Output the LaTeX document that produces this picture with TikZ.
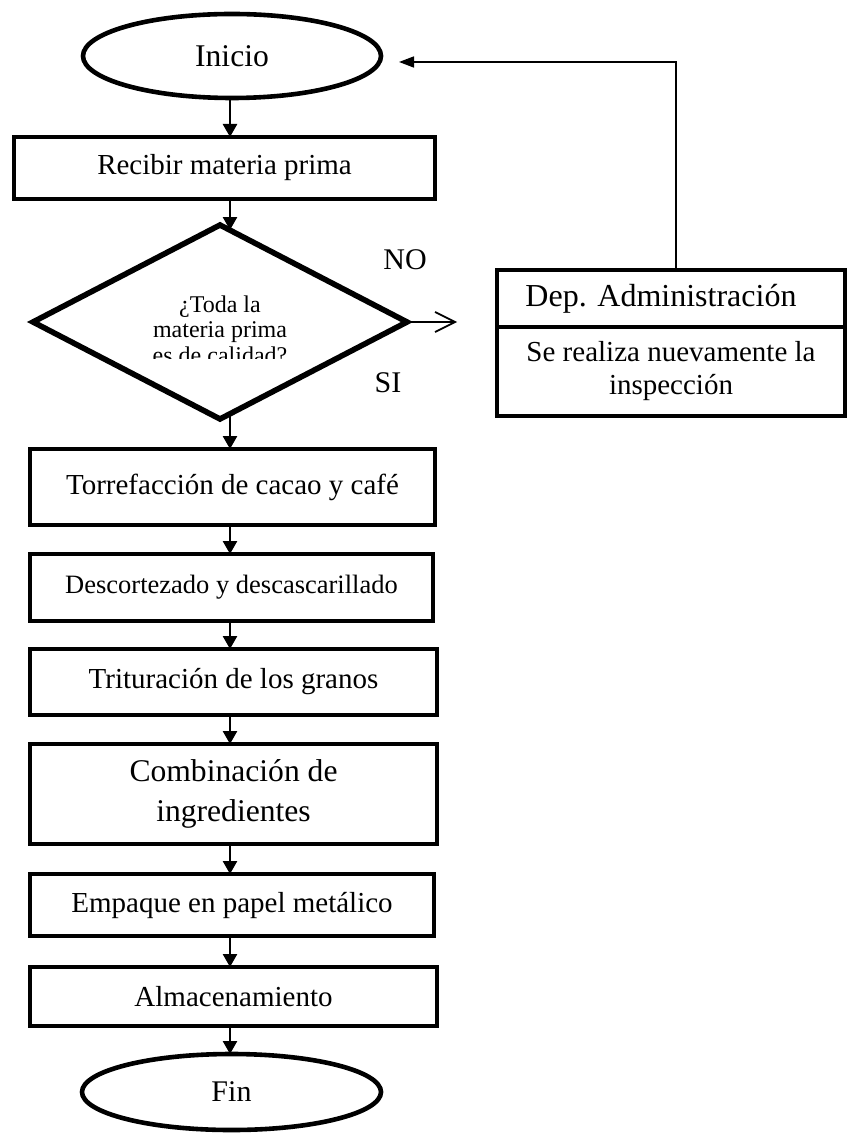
\documentclass[tikz,border=0pt]{standalone}
\usepackage{fontspec}
\setmainfont{Liberation Serif}
\usetikzlibrary{shapes.geometric,arrows.meta}

\tikzset{
  every node/.style={inner sep=0pt, outer sep=0pt},
  procbox/.style={draw, rectangle, line width=2.4pt, align=center,
    font=\fontsize{14.5}{17}\selectfont},
  terminal/.style={draw, ellipse, line width=2.3pt,
    font=\fontsize{15.8}{19}\selectfont},
  decision/.style={draw, diamond, line width=2.8pt, miter limit=10},
  flow/.style={line width=1.3pt, -{Triangle[length=6.5pt,width=7pt]}},
  backflow/.style={line width=0.8pt, -{Triangle[length=7.5pt,width=5.5pt]}},
  noflow/.style={line width=0.85pt, -{Straight Barb[length=10pt,width=10pt]}},
  answer/.style={font=\fontsize{15}{18}\selectfont},
}

\begin{document}
\begin{tikzpicture}[x=0.5pt,y=-0.5pt]
  \useasboundingbox (0,0) rectangle (849,1133);

  % vertical spine shared by the main flow arrows
  \coordinate (spine) at (230,0);

  % terminals and process steps of the main column
  \node[terminal, minimum width=149pt, minimum height=42pt] (ini) at (232,56) {Inicio};
  \node[procbox, minimum width=210.5pt, minimum height=31pt] (rec) at (224.5,168) {Recibir materia prima};
  \node[decision, minimum width=187pt, minimum height=97pt] (dec) at (220,322) {};
  \begin{scope}
    \clip (100,285) rectangle (340,359);
    \node[align=center, font=\fontsize{12}{12.75}\selectfont] (dectext) at (220,329.5)
      {¿Toda la\\materia prima\\es de calidad?};
  \end{scope}
  \node[procbox, minimum width=202.5pt, minimum height=38pt] (tor) at (232.5,487) {Torrefacción de cacao y café};
  \node[procbox, minimum width=201.5pt, minimum height=33.5pt,
        font=\fontsize{13.25}{16}\selectfont] (des) at (231.5,587.5) {Descortezado y descascarillado};
  \node[procbox, minimum width=203.5pt, minimum height=33pt] (tri) at (233.5,682) {Trituración de los granos};
  \node[procbox, minimum width=203.5pt, minimum height=50pt,
        font=\fontsize{15.8}{20}\selectfont] (com) at (233.5,794) {Combinación de\\ingredientes};
  \node[procbox, minimum width=202pt, minimum height=31pt] (emp) at (232,905) {Empaque en papel metálico};
  \node[procbox, minimum width=203.5pt, minimum height=29.5pt] (alm) at (233.5,996.5) {Almacenamiento};
  \node[terminal, minimum width=149.5pt, minimum height=38pt, font=\fontsize{15}{18}\selectfont] (fin) at (231.5,1092) {Fin};

  % administration box on the "NO" branch
  \node[procbox, minimum width=174pt, minimum height=28.5pt,
        font=\fontsize{16}{19}\selectfont] (dephead) at (671,298.5) {Dep. Administración\hspace*{10pt}};
  \node[procbox, minimum width=174pt, minimum height=44.5pt,
        font=\fontsize{14.5}{16.5}\selectfont] (depbody) at (671,371.5) {Se realiza nuevamente la\\inspección};

  % branch labels
  \node[answer] (no) at (405,260) {NO};
  \node[answer] (si) at (388,383) {SI};

  % main flow
  \draw[flow] (ini.south -| spine) -- (rec.north -| spine);
  \draw[flow] (rec.south -| spine) -- (dec.84 -| spine);
  \draw[flow] (dec.-84 -| spine) -- (tor.north -| spine);
  \draw[flow] (tor.south -| spine) -- (des.north -| spine);
  \draw[flow] (des.south -| spine) -- (tri.north -| spine);
  \draw[flow] (tri.south -| spine) -- (com.north -| spine);
  \draw[flow] (com.south -| spine) -- (emp.north -| spine);
  \draw[flow] (emp.south -| spine) -- (alm.north -| spine);
  \draw[flow] (alm.south -| spine) -- (fin.north -| spine);

  % "NO" branch and return to the start
  \coordinate (notip) at (457,322);
  \draw[noflow] (dec.east) -- (notip);
  \coordinate (fbx) at (676,0);
  \coordinate (fbtip) at (399,62);
  \draw[backflow] (dephead.north -| fbx) |- (fbtip);
\end{tikzpicture}
\end{document}
